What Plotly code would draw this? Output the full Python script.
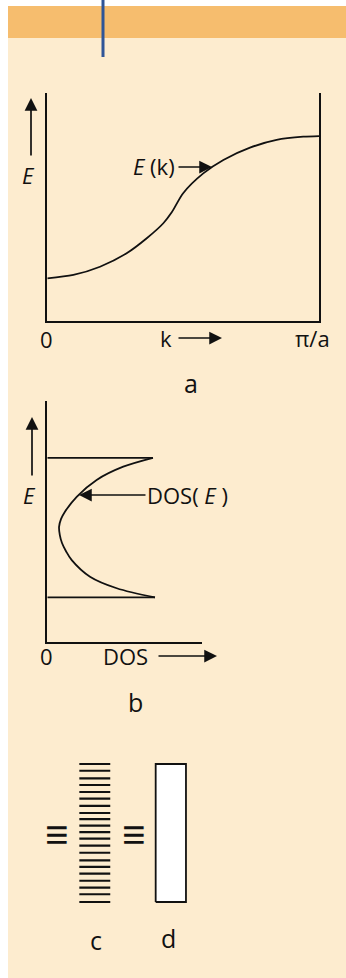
import plotly.graph_objects as go

W, H = 346, 978

# Panel a: band dispersion E(k) over the first Brillouin zone (k in units of pi/a)
k_vals = [0.0, 0.096, 0.194, 0.292, 0.366, 0.427, 0.458, 0.500,
          0.574, 0.648, 0.746, 0.844, 0.942, 1.0]
E_vals = [0.186, 0.201, 0.237, 0.296, 0.362, 0.428, 0.476, 0.560,
          0.647, 0.706, 0.760, 0.794, 0.808, 0.811]

# Panel b: density of states across the band
dos_E = [0.764, 0.727, 0.672, 0.602, 0.540, 0.510, 0.477, 0.443, 0.410, 0.376,
         0.339, 0.270, 0.222, 0.184]
dos_vals = [0.683, 0.491, 0.319, 0.190, 0.114, 0.089, 0.076, 0.081, 0.095, 0.121,
            0.158, 0.276, 0.449, 0.696]
band_top, band_bottom = 0.764, 0.184

# Panel c: discrete levels making up the band
levels = [1.0, 0.951, 0.896, 0.848, 0.797, 0.749, 0.696, 0.645, 0.601, 0.553, 0.507,
          0.459, 0.408, 0.357, 0.302, 0.254, 0.205, 0.154, 0.104, 0.056, 0.0]

FONT = "Open Sans"
INK = "#111111"
LW = 1.8
LABEL = 22
CAPTION = 25


def px(x):
    return x / W


def py(y):
    return 1 - y / H


fig = go.Figure()

# --- panel a ---
fig.add_trace(go.Scatter(x=k_vals, y=E_vals, mode="lines",
                         line=dict(color=INK, width=LW, shape="spline", smoothing=0.8),
                         xaxis="x", yaxis="y", hoverinfo="skip"))

# --- panel b ---
fig.add_trace(go.Scatter(x=dos_vals, y=dos_E, mode="lines",
                         line=dict(color=INK, width=LW, shape="spline", smoothing=0.9),
                         xaxis="x2", yaxis="y2", hoverinfo="skip"))
fig.add_trace(go.Scatter(x=[0, dos_vals[0], None, 0, dos_vals[-1]],
                         y=[band_top, band_top, None, band_bottom, band_bottom],
                         mode="lines", line=dict(color=INK, width=LW), xaxis="x2", yaxis="y2", hoverinfo="skip"))

# --- panel c: level ladder; panel d: continuous band ---
lx, ly = [], []
for e in levels:
    lx += [0.0, 0.29, None]
    ly += [e, e, None]
fig.add_trace(go.Scatter(x=lx, y=ly, mode="lines", line=dict(color=INK, width=2.2),
                         xaxis="x3", yaxis="y3", hoverinfo="skip"))
lo, hi = min(levels), max(levels)
fig.add_trace(go.Scatter(x=[0.716, 1.0, 1.0, 0.716, 0.716], y=[lo, lo, hi, hi, lo], mode="lines",
                         fill="toself", fillcolor="white", line=dict(color=INK, width=LW),
                         xaxis="x3", yaxis="y3", hoverinfo="skip"))

axis_common = dict(showgrid=False, zeroline=False, showticklabels=False, ticks="",
                   linecolor=INK, linewidth=LW, fixedrange=True)

layout = dict(
    width=W, height=H,
    margin=dict(l=0, r=0, t=0, b=0),
    paper_bgcolor="white", plot_bgcolor="rgba(0,0,0,0)",
    showlegend=False,
    font=dict(family=FONT, color=INK, size=LABEL),
    xaxis=dict(domain=[px(47.3), px(319)], range=[0, 1], showline=True, anchor="y", **axis_common),
    yaxis=dict(domain=[py(320.7), py(93)], range=[0, 1], showline=True, mirror=True, anchor="x", **axis_common),
    xaxis2=dict(domain=[px(47.3), px(202)], range=[0, 1], showline=True, anchor="y2", **axis_common),
    yaxis2=dict(domain=[py(641.7), py(401)], range=[0, 1], showline=True, anchor="x2", **axis_common),
    xaxis3=dict(domain=[px(74), px(191.3)], range=[-0.05, 1.05], visible=False, anchor="y3", fixedrange=True),
    yaxis3=dict(domain=[py(915.8), py(750.2)], range=[-0.1, 1.1], visible=False, anchor="x3", fixedrange=True),
)

shapes = [
    # cream panel and orange header strip
    dict(type="rect", xref="paper", yref="paper", x0=px(8), x1=1, y0=0, y1=py(38),
         fillcolor="#FDECCF", line=dict(width=0), layer="below"),
    dict(type="rect", xref="paper", yref="paper", x0=px(8), x1=1, y0=py(38), y1=py(6),
         fillcolor="#F6BD6E", line=dict(width=0), layer="below"),
    dict(type="line", xref="paper", yref="paper", x0=px(103), x1=px(103), y0=py(57), y1=1,
         line=dict(color="#2F5597", width=3)),
]
layout["shapes"] = shapes

ann = []


def text(x, y, s, size=LABEL, xanchor="center"):
    ann.append(dict(x=px(x), y=py(y), xref="paper", yref="paper", text=s, showarrow=False,
                    xanchor=xanchor, yanchor="middle", font=dict(size=size, family=FONT, color=INK)))


def arrow(hx, hy, tx, ty):
    ann.append(dict(x=px(hx), y=py(hy), xref="paper", yref="paper", text="", showarrow=True,
                    ax=tx - hx, ay=ty - hy, axref="pixel", ayref="pixel",
                    arrowhead=2, arrowsize=1.5, arrowwidth=1.7, arrowcolor=INK, standoff=0))


# panel a labels
text(47, 339, "0")
text(166, 338, "k")
arrow(222, 338, 177, 338)
text(312, 338, "π/a")
text(28, 175, "<i>E</i>")
arrow(31, 98, 31, 157)
text(177, 166, "<i>E</i> (k)", xanchor="right")
arrow(212, 167, 177, 167)
text(191, 383, "a", size=CAPTION)

# panel b labels
text(29, 495, "<i>E</i>")
arrow(32, 417, 32, 477)
text(145, 495, "DOS( <i>E</i> )", xanchor="left")
arrow(79, 495, 147, 495)
text(47, 656, "0")
text(125, 656, "DOS")
arrow(217, 656, 157, 656)
text(135, 702, "b", size=CAPTION)

# panels c and d
text(57, 832, "<b>≡</b>", size=42)
text(134, 832, "<b>≡</b>", size=42)
text(96, 940, "c", size=CAPTION)
text(168, 938, "d", size=CAPTION)

layout["annotations"] = ann
fig.update_layout(**layout)
fig.write_html("out.html", config={"displayModeBar": False})
